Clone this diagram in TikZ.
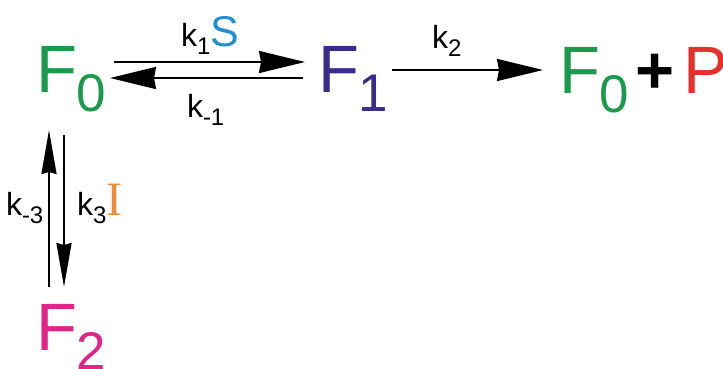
\documentclass[tikz,border=0pt]{standalone}
\usepackage{fontspec}
\setmainfont{Liberation Sans}
\newfontfamily\serifI{Liberation Serif}
\usetikzlibrary{arrows.meta}
\definecolor{fgreen}{RGB}{27,154,75}
\definecolor{fpurple}{RGB}{58,44,138}
\definecolor{sblue}{RGB}{36,143,207}
\definecolor{pred}{RGB}{228,50,43}
\definecolor{fmagenta}{RGB}{224,36,138}
\definecolor{iorange}{RGB}{238,139,58}
% species with lowered index, rate constants with index
\newcommand\spec[2]{F\raisebox{-19pt}{\fontsize{53}{53}\selectfont #2}}
\newcommand\rate[1]{k\raisebox{-8pt}{\fontsize{24}{24}\selectfont #1}}
\begin{document}
\begin{tikzpicture}[x=1pt,y=1pt,line join=round,>={Stealth[length=46pt,width=22pt,inset=2pt]},line width=2pt]
			\tikzset{species/.style={inner sep=0,anchor=base west,font=\fontsize{67}{67}\selectfont},
				klabel/.style={inner sep=0,anchor=base west,font=\fontsize{32}{32}\selectfont},
				vert/.style={-{Stealth[length=44pt,width=15pt,inset=2pt]}}}
			\useasboundingbox (0,0) rectangle (723,368);
			%\draw[gray!40,thin] (0,0) grid[step=20] (723,368);
			\node[species,text=fgreen] (F0) at (35,276) {\spec F0};
			\node[species,text=fpurple] (F1) at (317,276) {\spec F1};
			\node[species,text=fgreen] (F0p) at (558,275) {\spec F0};
			\node[species,font=\fontsize{67}{67}\selectfont\bfseries] (plus) at (634,275) {+};
			\node[species,text=pred] (P) at (682,275) {P};
			\node[species,text=fmagenta] (F2) at (35,18) {\spec F2};
			% rate labels
			\node[klabel] (k1) at (180,322) {\rate1\textcolor{sblue}{\fontsize{43}{43}\selectfont S}};
			\node[klabel] (km1) at (186,251) {\rate{-1}};
			\node[klabel] (k2) at (431,320) {\rate2};
			\node[klabel] (km3) at (5,153) {\rate{-3}};
			\node[klabel] (k3) at (76,153) {\rate3\textcolor{iorange}{\fontsize{48}{48}\serifI I}};
			% reactions
			\draw[->] ([xshift=6.6pt,yshift=30pt]F0.base east)--([xshift=-12pt,yshift=30pt]F1.base west);
			\draw[->] ([xshift=-14pt,yshift=14pt]F1.base west)--([xshift=2.6pt,yshift=14pt]F0.base east);
			\draw[->] ([xshift=2.6pt,yshift=22pt]F1.base east)--([xshift=-15pt,yshift=23pt]F0p.base west);
			\draw[vert] ([xshift=14pt,yshift=63pt]F2.base west)--([xshift=14pt,yshift=-38pt]F0.base west);
			\draw[vert] ([xshift=29pt,yshift=-43pt]F0.base west)--([xshift=29pt,yshift=63pt]F2.base west);
\end{tikzpicture}
\end{document}
